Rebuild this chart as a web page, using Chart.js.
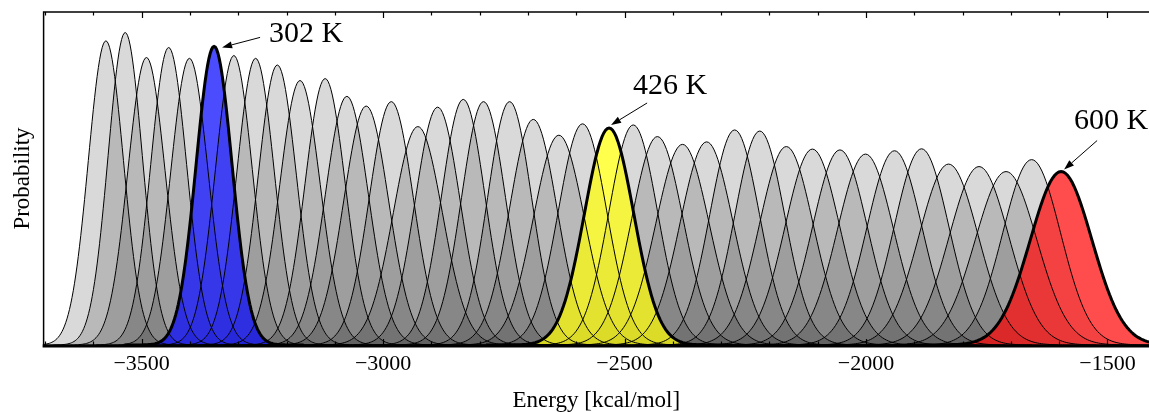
<!DOCTYPE html>
<html>
<head>
<meta charset="utf-8">
<script src="https://cdn.jsdelivr.net/npm/chart.js@4.4.1/dist/chart.umd.min.js"></script>
<style>
  html, body { margin: 0; padding: 0; background: #fff; }
  #wrap { width: 1149px; height: 412px; }
</style>
</head>
<body>
<div id="wrap"><canvas id="chart"></canvas></div>
<script>
// replica energy distributions (kcal/mol, probability density)
const centers = [-3574, -3534, -3490, -3444, -3401, -3350, -3309, -3264, -3219, -3172,
                 -3120, -3075, -3035, -2983, -2928, -2887, -2834, -2792, -2738, -2689,
                 -2636, -2587, -2532, -2482, -2432, -2380, -2330, -2272, -2220, -2165,
                 -2111, -2054, -2001, -1941, -1885, -1829, -1766, -1710, -1657, -1596];
const peaks = [0.01096, 0.01126, 0.01036, 0.01072, 0.01033, 0.01076, 0.01043, 0.01033, 0.01009, 0.00953,
               0.00960, 0.00896, 0.00861, 0.00877, 0.00787, 0.00857, 0.00885, 0.00877, 0.00877, 0.00813,
               0.00756, 0.00797, 0.00782, 0.00793, 0.00751, 0.00723, 0.00732, 0.00775, 0.00771, 0.00715,
               0.00706, 0.00703, 0.00688, 0.00700, 0.00707, 0.00652, 0.00643, 0.00625, 0.00668, 0.00625];
const widths = [36.4, 35.4, 38.5, 37.2, 38.6, 37.1, 38.2, 38.6, 39.5, 41.9,
                41.6, 44.5, 46.3, 45.5, 50.7, 46.6, 45.1, 45.5, 45.5, 49.1,
                52.8, 50.1, 51.0, 50.3, 53.1, 55.2, 54.5, 51.5, 51.7, 55.8,
                56.5, 56.7, 58.0, 57.0, 56.4, 61.2, 62.0, 63.8, 59.7, 63.8];

const highlightIndex = [5, 22, 39];
const highlightLabels = ['302 K', '426 K', '600 K'];
const highlightColors = ['rgba(0,0,255,0.7)', 'rgba(255,255,0,0.7)', 'rgba(255,0,0,0.7)'];

const energyTicks = [-3500, -3000, -2500, -2000, -1500];
const xMin = -3703, xMax = -1414;

const serif = "'Liberation Serif', 'DejaVu Serif', serif";

function curve(i) {
  const pts = [];
  const n = 140;
  for (let k = 0; k <= n; k++) {
    const x = centers[i] - 5 * widths[i] + (10 * widths[i]) * k / n;
    const z = (x - centers[i]) / widths[i];
    pts.push({ x: x, y: peaks[i] * Math.exp(-0.5 * z * z) });
  }
  return pts;
}

const datasets = centers.map((c, i) => {
  const h = highlightIndex.indexOf(i);
  return {
    data: curve(i),
    borderColor: '#000',
    borderWidth: h >= 0 ? 3 : 1,
    backgroundColor: h >= 0 ? highlightColors[h] : 'rgba(0,0,0,0.15)',
    fill: 'origin',
    pointRadius: 0,
    tension: 0,
    order: h >= 0 ? -1 : 0
  };
});

// axes frame with inward ticks
const frame = {
  id: 'frame',
  afterDatasetsDraw(chart) {
    const { ctx, chartArea: a, scales: { x } } = chart;
    ctx.save();
    ctx.strokeStyle = '#000';
    ctx.lineWidth = 1.2;
    for (let v = -3700; v <= -1400; v += 100) {
      const px = Math.round(x.getPixelForValue(v)) + 0.5;
      if (px <= a.left || px >= a.right) continue;
      const len = energyTicks.includes(v) ? 6 : 3.5;
      ctx.beginPath();
      ctx.moveTo(px, a.top); ctx.lineTo(px, a.top + len);
      ctx.moveTo(px, a.bottom); ctx.lineTo(px, a.bottom - len);
      ctx.stroke();
    }
    ctx.lineWidth = 1.5;
    ctx.beginPath();
    ctx.moveTo(a.left, a.bottom); ctx.lineTo(a.left, a.top); ctx.lineTo(a.right, a.top);
    ctx.stroke();
    ctx.lineWidth = 3.2;
    ctx.beginPath();
    ctx.moveTo(a.left - 1, a.bottom + 1); ctx.lineTo(a.right, a.bottom + 1);
    ctx.stroke();
    ctx.restore();
  }
};

// temperature labels with arrows pointing at highlighted peaks
const labelOffsets = [
  { tip: [8, 1], tail: [46, -9], text: [55, -12] },
  { tip: [2, -3], tail: [38, -25], text: [24, -42] },
  { tip: [3, -2], tail: [36, -31], text: [13, -50] }
];
const tempLabels = {
  id: 'tempLabels',
  afterDraw(chart) {
    const { ctx, scales: { x, y } } = chart;
    ctx.save();
    highlightIndex.forEach((i, j) => {
      const px = x.getPixelForValue(centers[i]);
      const py = y.getPixelForValue(peaks[i]);
      const o = labelOffsets[j];
      const tx = px + o.tip[0], ty = py + o.tip[1];
      const sx = px + o.tail[0], sy = py + o.tail[1];
      const ang = Math.atan2(ty - sy, tx - sx);
      const hl = 10, hw = 3.5;
      const bx = tx - hl * Math.cos(ang), by = ty - hl * Math.sin(ang);
      ctx.strokeStyle = '#000';
      ctx.lineWidth = 1;
      ctx.beginPath();
      ctx.moveTo(sx, sy); ctx.lineTo(bx, by);
      ctx.stroke();
      ctx.fillStyle = '#000';
      ctx.beginPath();
      ctx.moveTo(tx, ty);
      ctx.lineTo(bx - hw * Math.sin(ang), by + hw * Math.cos(ang));
      ctx.lineTo(bx + hw * Math.sin(ang), by - hw * Math.cos(ang));
      ctx.closePath();
      ctx.fill();
      ctx.font = '30px ' + serif;
      ctx.textAlign = 'left';
      ctx.textBaseline = 'middle';
      ctx.fillText(highlightLabels[j], px + o.text[0], py + o.text[1]);
    });
    ctx.restore();
  }
};

new Chart(document.getElementById('chart'), {
  type: 'line',
  data: { datasets: datasets },
  options: {
    responsive: true,
    maintainAspectRatio: false,
    animation: false,
    events: [],
    layout: { padding: { left: 9, top: 12, right: 0, bottom: -5 } },
    plugins: {
      legend: { display: false },
      tooltip: { enabled: false },
      filler: { drawTime: 'beforeDatasetsDraw' }
    },
    scales: {
      x: {
        type: 'linear',
        min: xMin,
        max: xMax,
        grid: { display: false, drawTicks: false },
        border: { display: false },
        afterBuildTicks: (s) => { s.ticks = energyTicks.map(v => ({ value: v })); },
        ticks: {
          autoSkip: false,
          maxRotation: 0,
          padding: 6,
          color: '#000',
          font: { family: serif, size: 22 },
          callback: (v) => '\u2212' + Math.abs(v)
        },
        title: {
          display: true,
          text: 'Energy [kcal/mol]',
          color: '#000',
          font: { family: serif, size: 23 },
          padding: { top: 4, bottom: 2 }
        }
      },
      y: {
        min: 0,
        max: 0.012,
        grid: { display: false, drawTicks: false },
        border: { display: false },
        ticks: { display: false },
        title: {
          display: true,
          text: 'Probability',
          color: '#000',
          font: { family: serif, size: 23 },
          padding: { top: 0, bottom: 7 }
        }
      }
    }
  },
  plugins: [frame, tempLabels]
});
</script>
</body>
</html>
